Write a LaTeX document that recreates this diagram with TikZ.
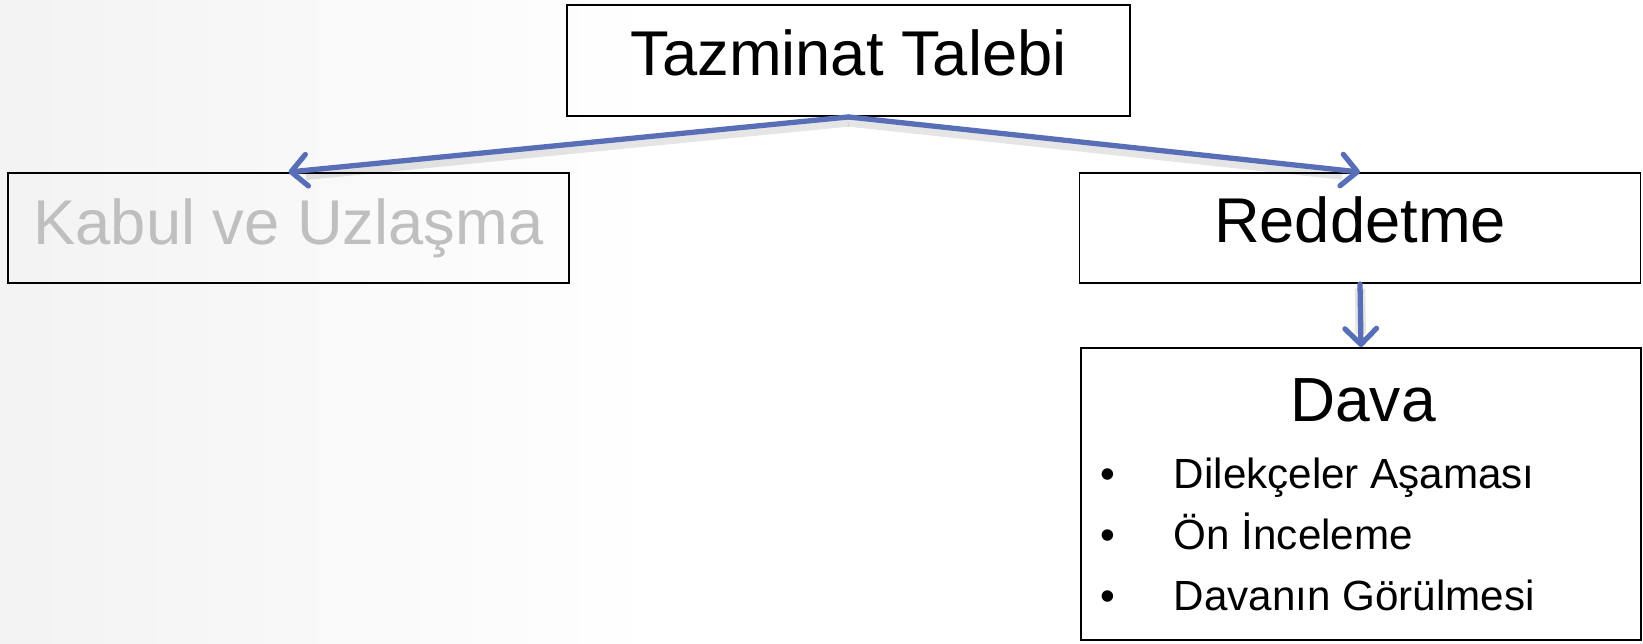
\documentclass[tikz,border=0pt]{standalone}
\usepackage{fontspec}
\setmainfont{Liberation Sans}
\usetikzlibrary{arrows.meta}
\definecolor{arrowblue}{RGB}{88,111,184}
\definecolor{mutedgray}{RGB}{191,191,191}
\pgfdeclarehorizontalshading{slidebg}{100bp}{color(0bp)=(black!11); color(45bp)=(white); color(85bp)=(white); color(100bp)=(black!5)}

\begin{document}
\begin{tikzpicture}[
  box/.style={draw, line width=1.1pt, minimum width=11.22cm, minimum height=2.2cm,
    inner sep=0pt, font=\fontsize{36}{40}\selectfont, text height=26pt, text depth=9pt},
  link/.style={arrowblue, line width=3pt, line cap=round,
    -{Straight Barb[length=9pt,width=18pt,round]},
    preaction={draw=black, -, opacity=0.1, line width=6pt, shorten >=10pt,
      transform canvas={yshift=-2.5pt}}},
  item/.style={anchor=base west, inner sep=0pt, font=\fontsize{24}{28}\selectfont}
]
  % Background of the slide
  \shade[shading=slidebg] (0,0) rectangle (32.86,12.86);
  \useasboundingbox (0,0) rectangle (32.86,12.86);

  % The claim and its two outcomes
  \node[box, minimum width=11.26cm, minimum height=2.22cm] (talep) at (16.97,11.65) {Tazminat Talebi};
  \node[box, text=mutedgray, text depth=7pt] (kabul) at (5.77,8.30) {Kabul ve Uzla\c{s}ma};
  \node[box] (red) at (27.20,8.30) {Reddetme};

  % The lawsuit box
  \node[draw, line width=1.1pt, minimum width=11.2cm, minimum height=5.84cm] (dava) at (27.22,2.98) {};
  \node[anchor=base, inner sep=0pt, font=\fontsize{35.5}{40}\selectfont] (davabaslik) at (27.26,4.44) {Dava};

  \node[item] (m1) at (23.47,3.10) {Dilek\c{c}eler A\c{s}amas\i};
  \node[item] (m2) at (23.47,1.88) {\"On \.Inceleme};
  \node[item] (m3) at (23.47,0.66) {Davan\i n G\"or\"ulmesi};
  \foreach \m in {m1,m2,m3}
    \node[anchor=base, inner sep=0pt, font=\fontsize{24}{28}\selectfont] at (22.15,0 |- \m.base) {\textbullet};

  % Arrows
  \draw[link] (talep.south) -- (kabul.north);
  \draw[link] (talep.south) -- (red.north);
  \draw[link] (red.south) -- (dava.north);
\end{tikzpicture}
\end{document}
